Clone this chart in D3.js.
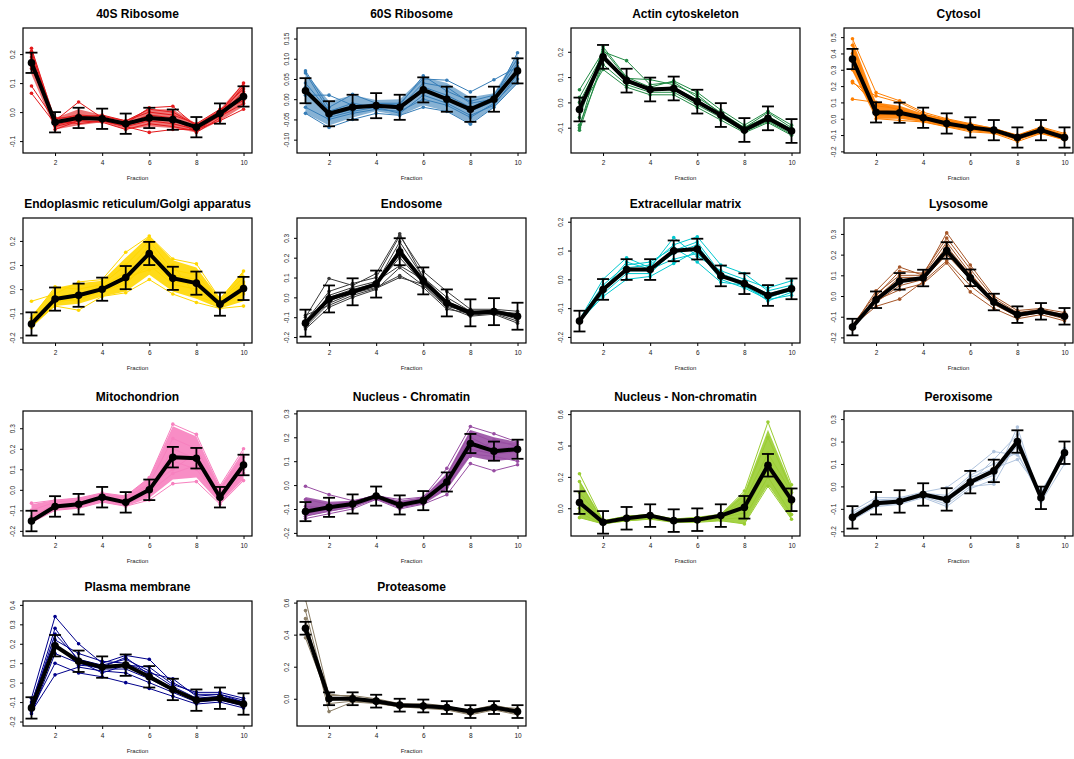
<!DOCTYPE html>
<html>
<head>
<meta charset="utf-8">
<script src="https://cdn.jsdelivr.net/npm/d3@7"></script>
<style>
  body { margin: 0; background: #fff; }
  text { font-family: "Liberation Sans", Arial, sans-serif; }
</style>
</head>
<body>
<script>
// fractions along the gradient
const fractions = [1, 2, 3, 4, 5, 6, 7, 8, 9, 10];

const organelles = [
  "40S Ribosome", "60S Ribosome", "Actin cytoskeleton", "Cytosol",
  "Endoplasmic reticulum/Golgi apparatus", "Endosome", "Extracellular matrix", "Lysosome",
  "Mitochondrion", "Nucleus - Chromatin", "Nucleus - Non-chromatin", "Peroxisome",
  "Plasma membrane", "Proteasome"
];

const colours = [
  "#E41A1C", "#377EB8", "#238B45", "#FF7F00",
  "#FFD700", "#3A3A3A", "#00C8CF", "#A65628",
  "#F781BF", "#984EA3", "#9ACD32", "#B0C4DE",
  "#00008B", "#8B7E66"
];

// mean profile per organelle
const meanProfile = [
  [0.17, -0.035, -0.02, -0.023, -0.04, -0.02, -0.026, -0.052, -0.005, 0.054],
  [0.021, -0.036, -0.02, -0.016, -0.02, 0.023, 0.0, -0.025, 0.0, 0.07],
  [-0.028, 0.18, 0.086, 0.051, 0.055, 0.003, -0.05, -0.109, -0.063, -0.113],
  [0.366, 0.039, 0.037, 0.006, -0.029, -0.053, -0.07, -0.115, -0.07, -0.115],
  [-0.144, -0.041, -0.025, 0.0, 0.048, 0.148, 0.045, 0.025, -0.062, 0.003],
  [-0.13, -0.008, 0.028, 0.067, 0.23, 0.083, -0.028, -0.078, -0.072, -0.095],
  [-0.145, -0.035, 0.034, 0.034, 0.099, 0.105, 0.012, -0.015, -0.056, -0.033],
  [-0.15, -0.018, 0.071, 0.087, 0.22, 0.088, -0.029, -0.09, -0.074, -0.098],
  [-0.152, -0.081, -0.07, -0.036, -0.061, 0.0, 0.159, 0.154, -0.036, 0.121],
  [-0.111, -0.093, -0.079, -0.046, -0.083, -0.065, 0.013, 0.174, 0.142, 0.15],
  [0.036, -0.09, -0.064, -0.047, -0.079, -0.073, -0.047, 0.006, 0.274, 0.054],
  [-0.138, -0.075, -0.067, -0.036, -0.058, 0.019, 0.069, 0.2, -0.051, 0.15],
  [-0.13, 0.19, 0.11, 0.08, 0.09, 0.03, -0.035, -0.09, -0.08, -0.11],
  [0.44, 0.0, 0.0, -0.015, -0.04, -0.045, -0.055, -0.08, -0.055, -0.08]
];

// half width of the error bars
const errorHalf = [0.035, 0.031, 0.047, 0.062, 0.048, 0.068, 0.036, 0.04, 0.05, 0.04, 0.072, 0.05, 0.055, 0.04];

// envelope of the dense groups (null = drawn as lines only)
const bandLow = [
  [0.13, -0.06, -0.045, -0.035, -0.06, -0.05, -0.055, -0.07, -0.03, 0.02],
  [-0.035, -0.065, -0.045, -0.03, -0.04, -0.015, -0.03, -0.06, -0.02, 0.04],
  null,
  [0.29, 0.0, 0.0, -0.02, -0.05, -0.075, -0.09, -0.13, -0.09, -0.13],
  [-0.16, -0.07, -0.06, -0.03, -0.01, 0.06, -0.01, -0.04, -0.08, -0.05],
  null, null, null,
  [-0.16, -0.1, -0.09, -0.06, -0.08, -0.04, 0.05, 0.06, -0.065, 0.05],
  [-0.13, -0.11, -0.095, -0.06, -0.095, -0.08, -0.02, 0.12, 0.1, 0.11],
  [-0.06, -0.1, -0.085, -0.07, -0.09, -0.09, -0.08, -0.1, 0.15, -0.07],
  null, null, null
];
const bandHigh = [
  [0.22, -0.02, 0.01, -0.01, -0.03, 0.01, 0.01, -0.04, 0.01, 0.1],
  [0.065, -0.005, 0.01, -0.002, 0.0, 0.055, 0.04, 0.005, 0.015, 0.11],
  null,
  [0.48, 0.1, 0.08, 0.03, 0.0, -0.03, -0.055, -0.1, -0.05, -0.095],
  [-0.11, 0.005, 0.025, 0.035, 0.13, 0.22, 0.12, 0.09, -0.04, 0.075],
  null, null, null,
  [-0.07, -0.05, -0.04, -0.015, -0.03, 0.06, 0.31, 0.26, 0.015, 0.19],
  [-0.05, -0.07, -0.065, -0.04, -0.065, -0.05, 0.05, 0.23, 0.2, 0.18],
  [0.18, -0.075, -0.05, -0.035, -0.065, -0.055, -0.035, 0.1, 0.5, 0.14],
  null, null, null
];

// individual protein profiles
const memberProfiles = [
  [ // 40S
    [0.22, -0.03, 0.035, -0.02, -0.04, 0.015, 0.02, -0.05, 0.0, 0.1],
    [0.21, -0.04, -0.01, -0.03, -0.05, -0.07, -0.06, -0.06, -0.01, 0.09],
    [0.19, -0.05, -0.03, -0.02, -0.04, -0.01, -0.02, -0.07, -0.02, 0.06],
    [0.15, -0.02, -0.02, -0.01, -0.03, 0.0, -0.01, -0.04, 0.01, 0.05],
    [0.09, -0.03, -0.04, -0.03, -0.05, -0.03, -0.04, -0.06, -0.03, 0.01],
    [0.065, -0.04, -0.02, -0.025, -0.035, -0.02, -0.03, -0.05, 0.0, 0.04],
    [0.2, -0.06, -0.03, -0.035, -0.06, -0.04, -0.05, -0.065, -0.01, 0.07],
    [0.18, -0.025, -0.01, -0.015, -0.03, 0.01, 0.0, -0.045, 0.005, 0.08],
    [0.16, -0.045, -0.025, -0.02, -0.045, -0.025, -0.03, -0.055, -0.015, 0.03]
  ],
  [ // 60S
    [0.07, -0.02, 0.012, -0.01, -0.01, 0.05, 0.047, 0.018, 0.048, 0.08],
    [0.065, -0.03, -0.01, -0.02, -0.02, 0.04, 0.03, -0.01, 0.0, 0.115],
    [-0.035, -0.07, -0.05, -0.035, -0.04, -0.02, -0.03, -0.062, -0.02, 0.04],
    [0.02, -0.04, -0.025, -0.015, -0.025, 0.02, 0.0, -0.03, -0.005, 0.07],
    [0.01, 0.01, -0.015, -0.02, -0.02, 0.03, 0.01, -0.02, 0.005, 0.09],
    [-0.02, -0.05, -0.035, -0.025, -0.03, 0.0, -0.015, -0.045, -0.01, 0.05],
    [0.04, -0.03, -0.02, -0.01, -0.015, 0.058, 0.02, -0.005, 0.01, 0.1],
    [0.03, -0.045, -0.03, -0.02, -0.035, 0.01, -0.01, -0.04, -0.015, 0.06]
  ],
  [ // Actin
    [0.05, 0.2, 0.165, 0.07, 0.08, 0.02, -0.04, -0.1, -0.04, -0.1],
    [-0.1, 0.22, 0.1, 0.06, 0.085, 0.04, -0.03, -0.09, -0.035, -0.09],
    [-0.11, 0.17, 0.08, 0.05, 0.05, 0.0, -0.05, -0.11, -0.07, -0.12],
    [-0.09, 0.15, 0.07, 0.04, 0.04, -0.01, -0.06, -0.115, -0.075, -0.125],
    [0.02, 0.19, 0.09, 0.055, 0.06, 0.01, -0.05, -0.105, -0.06, -0.11],
    [-0.03, 0.13, 0.06, 0.03, 0.03, -0.02, -0.07, -0.12, -0.08, -0.13],
    [-0.06, 0.21, 0.095, 0.09, 0.07, 0.03, -0.045, -0.1, -0.055, -0.105],
    [0.0, 0.18, 0.085, 0.045, 0.055, 0.005, -0.055, -0.11, -0.065, -0.115]
  ],
  [ // Cytosol
    [0.49, 0.16, 0.11, 0.04, 0.0, -0.03, -0.06, -0.1, -0.05, -0.09],
    [0.12, 0.1, 0.05, 0.02, -0.02, -0.05, -0.07, -0.11, -0.06, -0.1],
    [0.22, 0.14, 0.1, 0.03, -0.01, -0.04, -0.065, -0.11, -0.07, -0.11],
    [0.23, 0.08, 0.06, 0.01, -0.03, -0.055, -0.075, -0.12, -0.075, -0.12],
    [0.45, 0.02, 0.03, 0.0, -0.035, -0.06, -0.08, -0.13, -0.08, -0.125],
    [0.4, 0.0, -0.01, -0.02, -0.05, -0.08, -0.09, -0.14, -0.09, -0.13],
    [0.35, 0.05, 0.04, 0.01, -0.025, -0.05, -0.07, -0.115, -0.065, -0.115],
    [0.3, 0.03, 0.02, -0.005, -0.04, -0.065, -0.08, -0.125, -0.08, -0.12]
  ],
  [ // ER/Golgi
    [-0.05, -0.02, 0.03, 0.04, 0.153, 0.22, 0.125, 0.105, -0.04, 0.075],
    [-0.15, -0.07, -0.087, -0.03, -0.015, 0.04, -0.02, -0.055, -0.08, -0.07],
    [-0.13, -0.03, -0.02, 0.01, 0.07, 0.18, 0.06, 0.04, -0.05, 0.03],
    [-0.16, -0.05, -0.04, -0.01, 0.03, 0.1, 0.02, 0.0, -0.07, -0.02],
    [-0.12, 0.01, 0.0, 0.02, 0.1, 0.2, 0.08, 0.06, -0.05, 0.05],
    [-0.14, -0.06, -0.03, -0.005, 0.02, 0.12, 0.03, 0.02, -0.065, -0.01],
    [-0.15, -0.04, -0.05, 0.0, 0.05, 0.08, 0.1, -0.03, -0.06, 0.02]
  ],
  [ // Endosome
    [-0.1, 0.095, 0.06, 0.12, 0.32, 0.1, 0.0, -0.07, -0.075, -0.08],
    [-0.12, 0.03, 0.07, 0.1, 0.31, 0.13, 0.03, -0.06, -0.06, -0.07],
    [-0.14, 0.0, 0.04, 0.07, 0.28, 0.1, -0.02, -0.08, -0.07, -0.1],
    [-0.15, -0.03, 0.02, 0.06, 0.25, 0.08, -0.03, -0.085, -0.075, -0.11],
    [-0.13, -0.02, 0.03, 0.065, 0.2, 0.07, -0.035, -0.09, -0.08, -0.12],
    [-0.16, -0.05, 0.0, 0.04, 0.15, 0.06, -0.05, -0.095, -0.085, -0.13],
    [-0.12, -0.01, 0.02, 0.05, 0.11, 0.05, -0.06, -0.08, -0.07, -0.09],
    [-0.09, -0.04, 0.01, 0.045, 0.1, 0.065, -0.045, -0.075, -0.065, -0.085],
    [-0.14, 0.01, 0.05, 0.08, 0.16, 0.09, -0.02, -0.07, -0.07, -0.1]
  ],
  [ // ECM
    [-0.14, 0.0, 0.075, 0.04, 0.145, 0.08, 0.03, 0.0, -0.03, -0.005],
    [-0.15, -0.03, 0.04, 0.05, 0.12, 0.148, 0.05, 0.02, -0.04, -0.02],
    [-0.145, -0.06, 0.0, 0.01, 0.055, 0.1, 0.0, -0.03, -0.07, -0.055],
    [-0.145, -0.04, 0.03, 0.03, 0.09, 0.12, 0.01, -0.015, -0.06, -0.04],
    [-0.14, -0.02, 0.05, 0.06, 0.11, 0.06, -0.01, -0.02, -0.075, -0.045],
    [-0.15, -0.05, 0.02, 0.02, 0.1, 0.13, 0.02, -0.01, -0.05, -0.03],
    [-0.145, -0.035, 0.06, 0.035, 0.07, 0.09, 0.015, -0.025, -0.065, -0.035]
  ],
  [ // Lysosome
    [-0.15, 0.025, 0.14, 0.1, 0.305, 0.15, 0.0, -0.07, -0.06, -0.08],
    [-0.16, 0.0, 0.12, 0.11, 0.28, 0.13, -0.01, -0.08, -0.065, -0.09],
    [-0.15, -0.01, 0.09, 0.09, 0.24, 0.1, -0.02, -0.085, -0.07, -0.095],
    [-0.145, -0.05, -0.015, 0.07, 0.17, 0.05, -0.04, -0.1, -0.08, -0.11],
    [-0.15, -0.03, 0.05, 0.08, 0.2, 0.08, -0.03, -0.09, -0.075, -0.1],
    [-0.155, -0.02, 0.03, 0.06, 0.16, 0.02, -0.06, -0.11, -0.09, -0.12],
    [-0.14, 0.01, 0.1, 0.1, 0.26, 0.11, -0.025, -0.095, -0.07, -0.1]
  ],
  [ // Mitochondrion
    [-0.065, -0.05, -0.04, -0.015, -0.03, 0.06, 0.32, 0.27, 0.02, 0.2],
    [-0.16, -0.1, -0.09, -0.06, -0.08, -0.05, 0.03, 0.04, -0.07, 0.045],
    [-0.15, -0.08, -0.07, -0.04, -0.06, 0.0, 0.2, 0.15, -0.04, 0.13],
    [-0.13, -0.07, -0.06, -0.03, -0.05, 0.02, 0.1, 0.18, -0.02, 0.1],
    [-0.155, -0.09, -0.08, -0.05, -0.07, -0.02, 0.14, 0.1, -0.05, 0.08],
    [-0.1, -0.06, -0.05, -0.02, -0.04, 0.03, 0.25, 0.2, 0.0, 0.16],
    [-0.14, -0.085, -0.075, -0.045, -0.065, -0.01, 0.08, 0.12, -0.06, 0.14]
  ],
  [ // Nucleus - Chromatin
    [-0.005, -0.04, -0.065, -0.045, -0.06, -0.05, 0.07, 0.245, 0.215, 0.18],
    [-0.14, -0.12, -0.1, -0.06, -0.1, -0.08, -0.04, 0.09, 0.06, 0.085],
    [-0.1, -0.09, -0.08, -0.05, -0.085, -0.065, 0.02, 0.2, 0.15, 0.16],
    [-0.12, -0.1, -0.085, -0.045, -0.09, -0.07, 0.0, 0.15, 0.13, 0.14],
    [-0.06, -0.08, -0.07, -0.04, -0.075, -0.055, 0.04, 0.22, 0.18, 0.17],
    [-0.13, -0.11, -0.09, -0.055, -0.095, -0.075, -0.01, 0.13, 0.12, 0.1],
    [-0.09, -0.095, -0.075, -0.05, -0.08, -0.06, 0.03, 0.12, 0.19, 0.16]
  ],
  [ // Nucleus - Non-chromatin
    [0.22, -0.08, -0.05, -0.04, -0.07, -0.06, -0.04, 0.11, 0.55, 0.15],
    [-0.06, -0.1, -0.08, -0.07, -0.09, -0.09, -0.08, -0.1, 0.14, -0.07],
    [0.1, -0.085, -0.06, -0.045, -0.075, -0.07, -0.05, 0.05, 0.35, 0.1],
    [0.0, -0.095, -0.07, -0.055, -0.085, -0.08, -0.06, -0.03, 0.25, 0.03],
    [0.17, -0.09, -0.065, -0.05, -0.08, -0.075, -0.045, 0.08, 0.45, 0.12],
    [-0.03, -0.1, -0.075, -0.06, -0.085, -0.08, -0.07, -0.06, 0.2, -0.04]
  ],
  [ // Peroxisome
    [-0.11, -0.05, -0.05, -0.025, -0.005, 0.07, 0.155, 0.14, -0.03, 0.16],
    [-0.15, -0.09, -0.08, -0.05, -0.09, -0.01, 0.03, 0.265, -0.07, 0.1],
    [-0.14, -0.07, -0.065, -0.035, -0.06, 0.02, 0.12, 0.23, -0.05, 0.17],
    [-0.13, -0.06, -0.055, -0.03, -0.05, 0.04, 0.08, 0.12, -0.02, 0.14],
    [-0.145, -0.085, -0.075, -0.045, -0.08, 0.0, 0.01, 0.2, -0.06, 0.15],
    [-0.14, -0.08, -0.07, -0.04, -0.07, 0.01, 0.05, 0.18, -0.04, 0.13],
    [-0.12, -0.065, -0.06, -0.03, -0.04, 0.05, 0.1, 0.15, -0.055, 0.16]
  ],
  [ // Plasma membrane
    [-0.08, 0.34, 0.2, 0.1, 0.14, 0.12, 0.0, -0.06, -0.06, -0.09],
    [-0.15, 0.04, 0.08, 0.06, 0.05, 0.0, -0.05, -0.1, -0.09, -0.12],
    [-0.12, 0.25, 0.12, 0.09, 0.12, 0.06, -0.02, -0.08, -0.07, -0.1],
    [-0.16, 0.15, 0.1, 0.07, 0.07, 0.02, -0.04, -0.09, -0.085, -0.11],
    [-0.1, 0.22, 0.15, 0.11, 0.1, 0.05, 0.02, -0.07, -0.06, -0.1],
    [-0.14, 0.1, 0.05, 0.03, 0.0, -0.03, -0.07, -0.11, -0.1, -0.13],
    [-0.13, 0.2, 0.09, 0.08, 0.13, 0.04, -0.03, -0.09, -0.075, -0.11],
    [-0.11, 0.28, 0.11, 0.05, 0.09, 0.08, -0.01, -0.05, -0.05, -0.08]
  ],
  [ // Proteasome
    [0.62, 0.02, 0.02, 0.0, -0.03, -0.04, -0.05, -0.07, -0.04, -0.07],
    [0.5, -0.08, -0.02, -0.03, -0.05, -0.06, -0.07, -0.1, -0.07, -0.1],
    [0.45, 0.03, 0.01, -0.01, -0.035, -0.03, -0.045, -0.08, -0.05, -0.06],
    [0.38, -0.01, 0.0, -0.02, -0.045, -0.05, -0.06, -0.09, -0.06, -0.09],
    [0.42, 0.0, -0.01, -0.015, -0.04, -0.045, -0.055, -0.075, -0.055, -0.085],
    [0.55, -0.03, -0.015, -0.025, -0.05, -0.055, -0.065, -0.095, -0.065, -0.095]
  ]
];

const xTickLabels = ["2", "4", "6", "8", "10"];
const yTickLabels = [
  ["-0.1", "0.0", "0.1", "0.2"],
  ["-0.10", "-0.05", "0.00", "0.05", "0.10", "0.15"],
  ["-0.1", "0.0", "0.1", "0.2"],
  ["-0.2", "-0.1", "0.0", "0.1", "0.2", "0.3", "0.4", "0.5"],
  ["-0.2", "-0.1", "0.0", "0.1", "0.2"],
  ["-0.2", "-0.1", "0.0", "0.1", "0.2", "0.3"],
  ["-0.2", "-0.1", "0.0", "0.1", "0.2"],
  ["-0.2", "-0.1", "0.0", "0.1", "0.2", "0.3"],
  ["-0.2", "-0.1", "0.0", "0.1", "0.2", "0.3"],
  ["-0.2", "-0.1", "0.0", "0.1", "0.2", "0.3"],
  ["0.0", "0.2", "0.4", "0.6"],
  ["-0.2", "-0.1", "0.0", "0.1", "0.2", "0.3"],
  ["-0.2", "-0.1", "0.0", "0.1", "0.2", "0.3", "0.4"],
  ["0.0", "0.2", "0.4", "0.6"]
];
const yLimits = [
  [-0.141, 0.29], [-0.133, 0.176], [-0.2, 0.294], [-0.21, 0.556],
  [-0.223, 0.295], [-0.23, 0.4], [-0.221, 0.213], [-0.227, 0.377],
  [-0.225, 0.384], [-0.213, 0.31], [-0.177, 0.62], [-0.221, 0.336],
  [-0.223, 0.42], [-0.17, 0.61]
];

// layout
const width = 1074, height = 759;
const boxW = 229, boxH = 125;
const colLeft = [23, 297, 571, 844];
const rowTop = [28, 218, 411, 601];
// the ribosome bands are thinner than the solid ones
const lightBands = new Set([0, 1]);

const svg = d3.select("body").append("svg")
  .attr("width", width)
  .attr("height", height);

svg.append("rect").attr("width", width).attr("height", height).attr("fill", "#fff");
const defs = svg.append("defs");

organelles.forEach((name, i) => {
  const left = colLeft[i % 4];
  const top = rowTop[Math.floor(i / 4)];
  const bottom = top + boxH;
  const col = colours[i];

  const x = d3.scaleLinear().domain([0.64, 10.36]).range([left, left + boxW]);
  const y = d3.scaleLinear().domain(yLimits[i]).range([bottom, top]);

  defs.append("clipPath").attr("id", "clip" + i)
    .append("rect").attr("x", left).attr("y", top).attr("width", boxW).attr("height", boxH);

  const g = svg.append("g");
  const plot = g.append("g").attr("clip-path", `url(#clip${i})`);

  const line = d3.line().x((d, j) => x(fractions[j])).y(d => y(d));

  if (bandLow[i]) {
    const area = d3.area()
      .x((d, j) => x(fractions[j]))
      .y0((d, j) => y(bandLow[i][j]))
      .y1(d => y(d));
    plot.append("path")
      .attr("d", area(bandHigh[i]))
      .attr("fill", col)
      .attr("fill-opacity", lightBands.has(i) ? 0.6 : 0.9);
  }

  memberProfiles[i].forEach(p => {
    plot.append("path")
      .attr("d", line(p))
      .attr("fill", "none")
      .attr("stroke", col)
      .attr("stroke-width", 1);
    plot.selectAll(null)
      .data(p)
      .join("circle")
      .attr("cx", (d, j) => x(fractions[j]))
      .attr("cy", d => y(d))
      .attr("r", 1.8)
      .attr("fill", col);
  });

  // mean profile
  plot.append("path")
    .attr("d", line(meanProfile[i]))
    .attr("fill", "none")
    .attr("stroke", "#000")
    .attr("stroke-width", 4)
    .attr("stroke-linejoin", "round");

  const e = errorHalf[i];
  const bars = plot.append("g").attr("stroke", "#000").attr("stroke-width", 1.8);
  meanProfile[i].forEach((m, j) => {
    const cx = x(fractions[j]);
    bars.append("line").attr("x1", cx).attr("x2", cx).attr("y1", y(m - e)).attr("y2", y(m + e));
    bars.append("line").attr("x1", cx - 6).attr("x2", cx + 6).attr("y1", y(m - e)).attr("y2", y(m - e));
    bars.append("line").attr("x1", cx - 6).attr("x2", cx + 6).attr("y1", y(m + e)).attr("y2", y(m + e));
  });

  plot.selectAll(null)
    .data(meanProfile[i])
    .join("circle")
    .attr("cx", (d, j) => x(fractions[j]))
    .attr("cy", d => y(d))
    .attr("r", 3.8)
    .attr("fill", "#000");

  // box
  g.append("rect")
    .attr("x", left).attr("y", top)
    .attr("width", boxW).attr("height", boxH)
    .attr("fill", "none")
    .attr("stroke", "#000")
    .attr("stroke-width", 1.2);

  // axes
  const xAxis = g.append("g")
    .attr("transform", `translate(0,${bottom})`)
    .call(d3.axisBottom(x)
      .tickValues(xTickLabels.map(Number))
      .tickFormat((d, j) => xTickLabels[j])
      .tickSize(3));
  xAxis.select(".domain").remove();
  xAxis.selectAll("text").attr("y", 7).attr("font-size", 6.5).attr("fill", "#222");

  const yAxis = g.append("g")
    .attr("transform", `translate(${left},0)`)
    .call(d3.axisLeft(y)
      .tickValues(yTickLabels[i].map(Number))
      .tickFormat((d, j) => yTickLabels[i][j])
      .tickSize(3));
  yAxis.select(".domain").remove();
  yAxis.selectAll("text")
    .attr("transform", "rotate(-90)")
    .attr("x", 0)
    .attr("y", -8)
    .attr("dy", 0)
    .attr("text-anchor", "middle")
    .attr("font-size", 6.5)
    .attr("fill", "#222");

  g.append("text")
    .attr("x", left + boxW / 2)
    .attr("y", bottom + 27)
    .attr("text-anchor", "middle")
    .attr("font-size", 6)
    .attr("fill", "#222")
    .text("Fraction");

  g.append("text")
    .attr("x", left + boxW / 2)
    .attr("y", top - 10)
    .attr("text-anchor", "middle")
    .attr("font-size", 12)
    .attr("font-weight", "bold")
    .text(name);
});
</script>
</body>
</html>
